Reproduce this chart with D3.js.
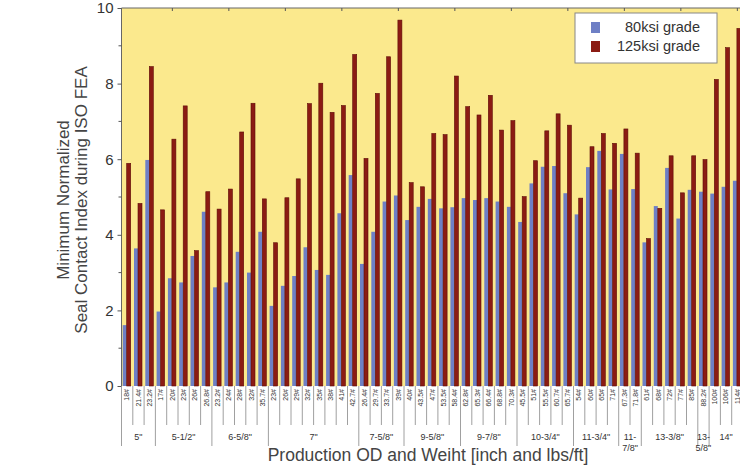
<!DOCTYPE html>
<html>
<head>
<meta charset="utf-8">
<script src="https://cdn.jsdelivr.net/npm/d3@7"></script>
<style>
  body { margin: 0; background: #fff; overflow: hidden; }
  svg { display: block; font-family: "Liberation Sans Narrow", "Arial Narrow", "Liberation Sans", Arial, sans-serif; }
</style>
</head>
<body>
<svg></svg>
<script>
// casing sizes and how many weights each has
var groups = ['5"', '5-1/2"', '6-5/8"', '7"', '7-5/8"', '9-5/8"', '9-7/8"', '10-3/4"', '11-3/4"', '11-7/8"', '13-3/8"', '13-5/8"', '14"'];
var groupSizes = [3, 5, 5, 8, 4, 5, 5, 5, 4, 2, 5, 1, 3];

// weight labels, one per pair of bars
var weights = ["18#", "21.4#", "23.2#",
  "17#", "20#", "23#", "26#", "26.8#",
  "23.2#", "24#", "28#", "32#", "35.7#",
  "23#", "26#", "29#", "32#", "35#", "38#", "41#", "42.7#",
  "26.4#", "29.7#", "33.7#", "39#",
  "40#", "43.5#", "47#", "53.5#", "58.4#",
  "62.8#", "65.3#", "66.4#", "68.8#", "70.3#",
  "45.5#", "51#", "55.5#", "60.7#", "65.7#",
  "54#", "60#", "65#", "71#",
  "67.3#", "71.8#",
  "61#", "68#", "72#", "77#", "85#",
  "88.2#",
  "100#", "106#", "114#"];

var grade80 = [1.61, 3.64, 5.98, 1.97, 2.85, 2.74, 3.44, 4.61, 2.61, 2.74, 3.55, 3.0, 4.08,
  2.12, 2.65, 2.91, 3.67, 3.07, 2.94, 4.57, 5.58, 3.23, 4.08, 4.88, 5.04, 4.39, 4.74,
  4.95, 4.70, 4.73, 4.97, 4.92, 4.97, 4.88, 4.74, 4.34, 5.36, 5.80, 5.82, 5.10, 4.54,
  5.79, 6.22, 5.20, 6.14, 5.21, 3.80, 4.76, 5.77, 4.43, 5.19, 5.14, 5.09, 5.27, 5.43];

var grade125 = [5.89, 4.83, 8.45, 4.66, 6.53, 7.41, 3.58, 5.14, 4.68, 5.21, 6.72, 7.48, 4.95,
  3.79, 4.98, 5.48, 7.47, 8.01, 7.24, 7.42, 8.77, 6.02, 7.74, 8.71, 9.68, 5.38, 5.27,
  6.68, 6.65, 8.20, 7.39, 7.17, 7.69, 6.77, 7.02, 5.01, 5.96, 6.75, 7.20, 6.90, 4.97,
  6.33, 6.68, 6.42, 6.80, 6.16, 3.90, 4.70, 6.09, 5.11, 6.09, 5.99, 8.11, 8.95, 9.46];

var seriesNames = ["80ksi grade", "125ksi grade"];
var colors = ["#6e7fc5", "#8b1b13"];

var margin = {top: 8, left: 121.5},
    width = 55 * 11.3,
    height = 378;

var svg = d3.select("svg").attr("width", 740).attr("height", 466);
var g = svg.append("g").attr("transform", "translate(" + margin.left + "," + margin.top + ")");

var x = d3.scaleBand().domain(d3.range(weights.length)).range([0, width]);
var sub = d3.scaleBand().domain([0, 1]).range([1.2, 9.2]);
var y = d3.scaleLinear().domain([0, 10]).range([height, 0]);

g.append("rect").attr("width", width).attr("height", height).attr("fill", "#fbe98d");

// bars
var pairs = weights.map((w, i) => [grade80[i], grade125[i]]);
var cat = g.selectAll(".cat").data(pairs).enter().append("g")
  .attr("transform", (d, i) => "translate(" + x(i) + ",0)");
cat.selectAll("rect").data(d => d).enter().append("rect")
  .attr("x", (d, j) => sub(j))
  .attr("width", sub.bandwidth())
  .attr("y", d => y(d))
  .attr("height", d => y(0) - y(d))
  .attr("fill", (d, j) => colors[j])
  .attr("stroke", (d, j) => j ? "#5e0c07" : "none")
  .attr("stroke-width", 0.6);

// frame
g.append("line").attr("x1", 0).attr("x2", width).attr("y1", 0).attr("y2", 0).attr("stroke", "#666");
g.append("line").attr("x1", 0).attr("x2", 0).attr("y1", 0).attr("y2", height).attr("stroke", "#666");

// top ticks every 5 categories
g.selectAll(".toptick").data(d3.range(4, weights.length, 5)).enter().append("line")
  .attr("x1", i => x(i) + x.bandwidth() / 2).attr("x2", i => x(i) + x.bandwidth() / 2)
  .attr("y1", 0).attr("y2", 3).attr("stroke", "#555");

// y axis
var yAxis = g.append("g").call(d3.axisLeft(y).tickValues([0, 2, 4, 6, 8, 10]).tickSize(4).tickPadding(4));
yAxis.select(".domain").remove();
yAxis.selectAll("line").attr("stroke", "#555");
yAxis.selectAll("text").attr("font-size", 15).attr("fill", "#333").attr("font-family", "Liberation Sans, Arial, sans-serif");
g.selectAll(".minor").data([1, 3, 5, 7, 9]).enter().append("line")
  .attr("x1", -3).attr("x2", 0).attr("y1", d => y(d)).attr("y2", d => y(d)).attr("stroke", "#555");

// category separators and labels
var bottom = g.append("g").attr("transform", "translate(0," + height + ")");
var starts = [0];
groupSizes.forEach(s => starts.push(starts[starts.length - 1] + s));
bottom.selectAll(".sep").data(d3.range(weights.length + 1)).enter().append("line")
  .attr("x1", i => i * x.step()).attr("x2", i => i * x.step())
  .attr("y1", 0).attr("y2", i => starts.indexOf(i) >= 0 ? 60 : 39)
  .attr("stroke", "#888").attr("stroke-width", 0.8);
bottom.selectAll(".wl").data(weights).enter().append("text")
  .attr("transform", (d, i) => "translate(" + (x(i) + x.bandwidth() / 2 + 2.3) + ",3) rotate(-90)")
  .attr("text-anchor", "end")
  .attr("font-size", 7)
  .attr("fill", "#333")
  .text(d => d);

// group labels
bottom.selectAll(".gl").data(groups).enter().append("text")
  .attr("x", (d, k) => (starts[k] + groupSizes[k] / 2) * x.step())
  .attr("y", 54)
  .attr("text-anchor", "middle")
  .attr("font-size", 9)
  .attr("fill", "#333")
  .each(function(d, k) {
    var t = d3.select(this);
    if (groupSizes[k] * x.step() < 30 && d.indexOf("-") > 0) {
      var parts = d.split("-");
      t.append("tspan").text(parts[0] + "-");
      t.append("tspan").attr("x", t.attr("x")).attr("dy", 11).text(parts[1]);
    } else {
      t.text(d);
    }
  });

// axis titles
svg.append("text")
  .attr("transform", "translate(69,200) rotate(-90)")
  .attr("text-anchor", "middle")
  .attr("font-size", 17).attr("fill", "#444")
  .selectAll("tspan").data(["Minimum Normalized", "Seal Contact Index during ISO FEA"]).enter().append("tspan")
  .attr("x", 0).attr("dy", (d, i) => i ? 18 : 0).text(d => d);

svg.append("text")
  .attr("x", 428).attr("y", 461)
  .attr("text-anchor", "middle")
  .attr("font-size", 17.5).attr("fill", "#444")
  .text("Production OD and Weiht [inch and lbs/ft]");

// legend
var leg = svg.append("g").attr("transform", "translate(575,13)");
leg.append("rect").attr("width", 142).attr("height", 50).attr("fill", "#fff").attr("stroke", "#888");
var item = leg.selectAll(".li").data(seriesNames).enter().append("g")
  .attr("transform", (d, i) => "translate(0," + (9 + i * 19) + ")");
item.append("rect").attr("x", 16).attr("width", 9).attr("height", 11).attr("fill", (d, i) => colors[i]);
item.append("text").attr("x", 125).attr("y", 10).attr("text-anchor", "end")
  .attr("font-size", 14.5).attr("fill", "#333").text(d => d);
</script>
</body>
</html>
